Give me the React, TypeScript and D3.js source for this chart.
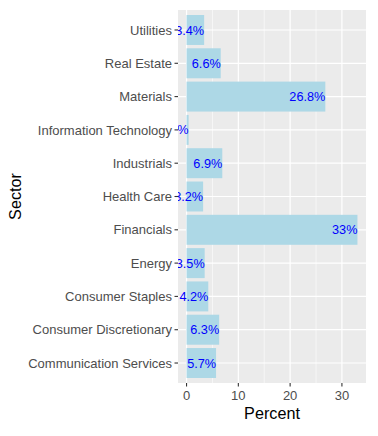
import React from "react";
import * as d3 from "d3";

const sectors = [
  "Utilities",
  "Real Estate",
  "Materials",
  "Information Technology",
  "Industrials",
  "Health Care",
  "Financials",
  "Energy",
  "Consumer Staples",
  "Consumer Discretionary",
  "Communication Services",
];
const percents = [3.4, 6.6, 26.8, 0.4, 6.9, 3.2, 33, 3.5, 4.2, 6.3, 5.7];
const labels = ["3.4%", "6.6%", "26.8%", "0.4%", "6.9%", "3.2%", "33%", "3.5%", "4.2%", "6.3%", "5.7%"];
const xTicks = [0, 10, 20, 30];
const xMinor = [5, 15, 25];

const W = 378;
const H = 436;
const L = 178;
const R = 366;
const T = 10;
const B = 383;

export default function App() {
  const maxV = d3.max(percents) as number;
  const x = d3
    .scaleLinear()
    .domain([-0.05 * maxV, maxV * 1.05])
    .range([L, R]);
  const y = d3.scalePoint<string>().domain(sectors).range([T, B]).padding(0.6);
  const step = y.step();
  const bw = step * 0.9;
  const cy = (s: string) => y(s) as number;
  const font = "Liberation Sans, Arial, sans-serif";

  return (
    <svg width={W} height={H} style={{ position: "absolute", left: 0, top: 0 }} fontFamily={font}>
      <defs>
        <clipPath id="panel">
          <rect x={L} y={T} width={R - L} height={B - T} />
        </clipPath>
      </defs>
      <rect x={0} y={0} width={W} height={H} fill="white" />
      <rect x={L} y={T} width={R - L} height={B - T} fill="#EBEBEB" />
      {xMinor.map((v) => (
        <line key={"mn" + v} x1={x(v)} x2={x(v)} y1={T} y2={B} stroke="white" strokeWidth={0.6} />
      ))}
      {xTicks.map((v) => (
        <line key={"mj" + v} x1={x(v)} x2={x(v)} y1={T} y2={B} stroke="white" strokeWidth={1.2} />
      ))}
      {sectors.map((s) => (
        <line key={"hg" + s} x1={L} x2={R} y1={cy(s)} y2={cy(s)} stroke="white" strokeWidth={1.2} />
      ))}
      {sectors.map((s, i) => (
        <rect
          key={"b" + s}
          x={x(0)}
          y={cy(s) - bw / 2}
          width={x(percents[i]) - x(0)}
          height={bw}
          fill="#ADD8E6"
        />
      ))}
      <g clipPath="url(#panel)">
        {sectors.map((s, i) => (
          <text
            key={"l" + s}
            x={x(percents[i])}
            y={cy(s)}
            dy="0.36em"
            textAnchor="end"
            fontSize={12.7}
            fill="#0000FF"
          >
            {labels[i]}
          </text>
        ))}
      </g>
      {sectors.map((s) => (
        <g key={"yt" + s}>
          <line x1={L - 3.5} x2={L} y1={cy(s)} y2={cy(s)} stroke="#333333" strokeWidth={1.1} />
          <text x={L - 6} y={cy(s)} dy="0.36em" textAnchor="end" fontSize={13} fill="#4D4D4D">
            {s}
          </text>
        </g>
      ))}
      {xTicks.map((v) => (
        <g key={"xt" + v}>
          <line x1={x(v)} x2={x(v)} y1={B} y2={B + 3.5} stroke="#333333" strokeWidth={1.1} />
          <text x={x(v)} y={399.5} textAnchor="middle" fontSize={13} fill="#4D4D4D">
            {v}
          </text>
        </g>
      ))}
      <text x={(L + R) / 2} y={419} textAnchor="middle" fontSize={16.2} fill="black">
        Percent
      </text>
      <text
        transform={`translate(${21},${(T + B) / 2}) rotate(-90)`}
        textAnchor="middle"
        fontSize={16.2}
        fill="black"
      >
        Sector
      </text>
    </svg>
  );
}
